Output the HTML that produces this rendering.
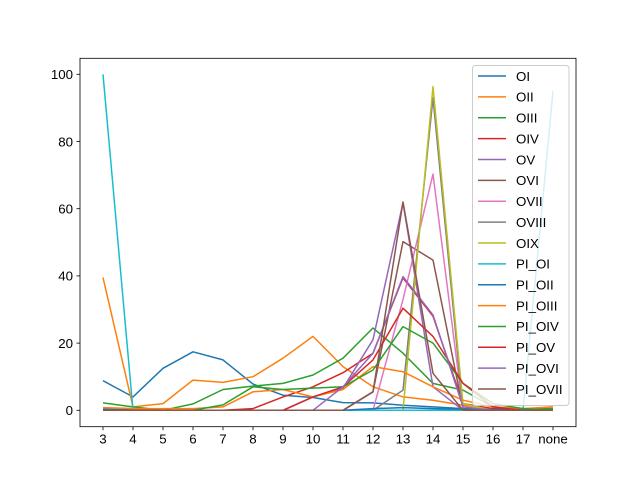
<!DOCTYPE html>
<html><head><meta charset="utf-8"><style>
body{margin:0;background:#fff}
svg{display:block;font-family:"Liberation Sans","DejaVu Sans",sans-serif}
</style></head><body>
<svg id="chart" width="640" height="480">
<rect width="640" height="480" fill="#fff"/>
<g id="plot"></g>
<g id="axes"></g>
<g id="legend"></g>
</svg>
<script>
const categories=["3","4","5","6","7","8","9","10","11","12","13","14","15","16","17","none"];
const seriesNames=["OI","OII","OIII","OIV","OV","OVI","OVII","OVIII","OIX","PI_OI","PI_OII","PI_OIII","PI_OIV","PI_OV","PI_OVI","PI_OVII"];
const sOI=[8.8,4,12.5,17.4,15,7.8,4.5,3.8,2.3,2.2,1.5,1,0.5,0.3,0.2,0.1];
const sOII=[39.5,1,2,9,8.3,10,15.5,22,13,7,4,3,1.5,0.5,0.3,1];
const sOIII=[2.2,1,0,1.9,6.2,7.2,8,10.5,15.5,24.5,17,8,6,1,0.5,0.5];
const sOIV=[0,0,0,0,0,0.5,4,7,11.2,17,39.4,28,2,0.5,0,0];
const sOV=[0,0,0,0,0,0,0,4,6.6,21,61.8,7,0,0,0,0];
const sOVI=[0,0,0,0,0,0,0,0,0,5.5,50.2,44.7,0.5,0,0,0];
const sOVII=[0,0,0,0,0,0,0,0,0,0,33,70.3,0,0,0,0];
const sOVIII=[0,0,0,0,0,0,0,0,0,0,6,93,0,0,0,0];
const sOIX=[0,0,0,0,0,0,0,0,0,0,0,96.3,2,0,0,0];
const sPI_OI=[100,0,0,0,0,0,0,0,0,0,0,0,0,0,0,95];
const sPI_OII=[0.3,0.2,0,0,0,0,0,0,0,0.5,0.8,0.5,0.3,0.2,0.1,0];
const sPI_OIII=[0.8,0.5,0.5,0.5,1,5.5,6.2,4,6.2,13,11.5,7,3,1,0.5,1];
const sPI_OIV=[0,0,0,0,1.6,7,6.2,6.6,7,12,24.9,20,8,2,0.5,0];
const sPI_OV=[0,0,0,0,0,0,0,4,7,15,30.4,22,8,1,0,0];
const sPI_OVI=[0,0,0,0,0,0,0,0,7,17,39.8,28.4,1,0,0,0];
const sPI_OVII=[0,0,0,0,0,0,0,0,0,5.5,62,11,0,0,0,0];
const seriesValues=[sOI,sOII,sOIII,sOIV,sOV,sOVI,sOVII,sOVIII,sOIX,sPI_OI,sPI_OII,sPI_OIII,sPI_OIV,sPI_OV,sPI_OVI,sPI_OVII];
const yTicks=[0,20,40,60,80,100];
const colors=["#1f77b4","#ff7f0e","#2ca02c","#d62728","#9467bd","#8c564b","#e377c2","#7f7f7f","#bcbd22","#17becf"];
const NS="http://www.w3.org/2000/svg";
const L=80,R=576,T=58.3,B=426.7;
const xs=i=>103+i*30.0;
const ys=v=>410.3-v*3.36;
function mk(tag,attrs,parent){const e=document.createElementNS(NS,tag);for(const k in attrs)e.setAttribute(k,attrs[k]);parent.appendChild(e);return e;}
const plot=document.getElementById('plot'),axes=document.getElementById('axes'),legend=document.getElementById('legend');
seriesValues.forEach((vals,si)=>{
  const pts=vals.map((v,i)=>xs(i).toFixed(1)+","+ys(v).toFixed(1)).join(" ");
  const pl=mk('polyline',{points:pts,fill:"none",stroke:colors[si%10],"stroke-width":1.5,"stroke-linejoin":"round"},plot);
  
  
});
const frame=mk('rect',{x:L,y:T,width:R-L,height:B-T,fill:"none",stroke:"#000","stroke-width":0.8},axes);


categories.forEach((c,i)=>{
  const tk=mk('line',{x1:xs(i),x2:xs(i),y1:B,y2:B+3.5,stroke:"#000","stroke-width":0.8},axes);
  
  
  const t=mk('text',{x:xs(i),y:B+17,"font-size":13.3,"text-anchor":"middle",fill:"#000"},axes);
  t.textContent=c;
  
  
});
yTicks.forEach(v=>{
  const tk=mk('line',{x1:L-3.5,x2:L,y1:ys(v),y2:ys(v),stroke:"#000","stroke-width":0.8},axes);
  
  
  const t=mk('text',{x:L-7,y:ys(v)+4.8,"font-size":13.3,"text-anchor":"end",fill:"#000"},axes);
  t.textContent=v;
  
  
});
const lb=mk('rect',{x:472.5,y:65.5,width:96.5,height:340,rx:3,fill:"#fff","fill-opacity":0.8,stroke:"#ccc","stroke-width":1},legend);


seriesNames.forEach((n,i)=>{
  const y=76+i*20.87;
  const ln=mk('line',{x1:478,x2:506,y1:y,y2:y,stroke:colors[i%10],"stroke-width":1.5},legend);
  
  
  const t=mk('text',{x:516,y:y+4.8,"font-size":13.3,fill:"#000"},legend);
  t.textContent=n;
  
  
});
</script>
</body></html>
